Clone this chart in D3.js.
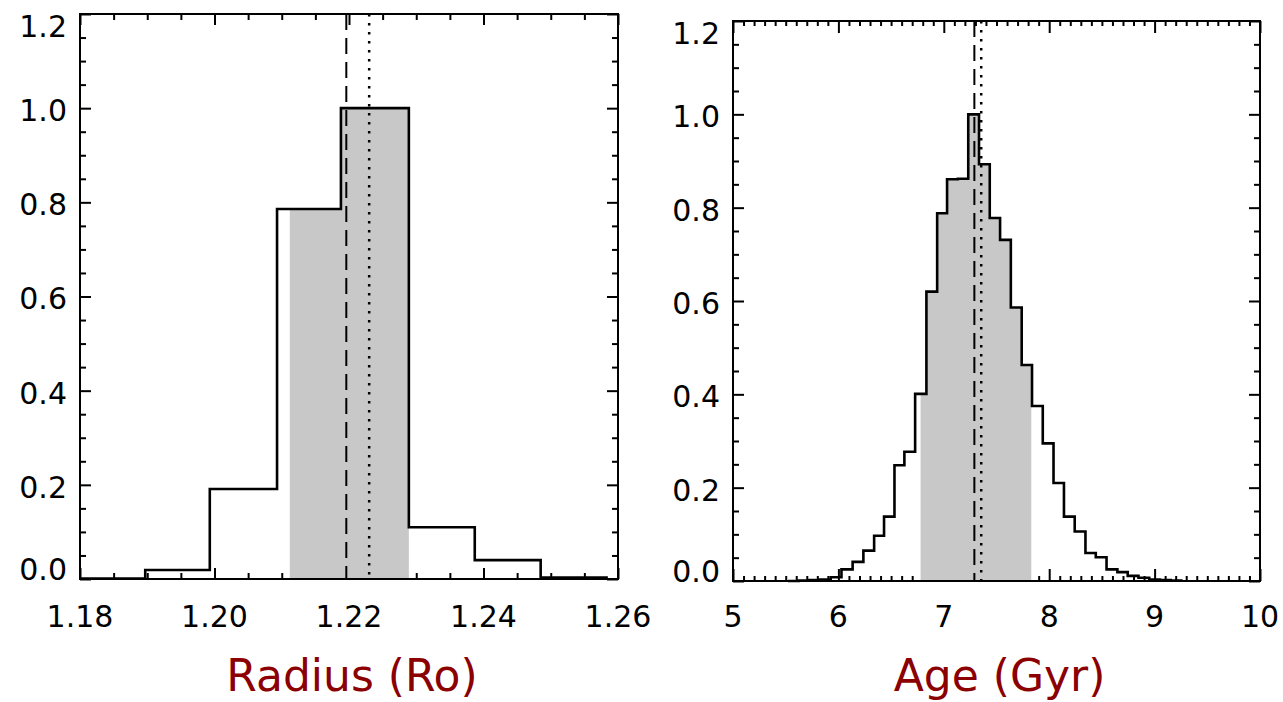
<!DOCTYPE html>
<html>
<head>
<meta charset="utf-8">
<script src="https://cdn.jsdelivr.net/npm/d3@7"></script>
<style>
  html, body { margin: 0; padding: 0; background: #fff; }
  svg { display: block; }
</style>
</head>
<body>
<svg id="chart" width="1283" height="702"></svg>
<script>
// ---------------- data ----------------
const radiusEdges  = [1.1799, 1.1897, 1.1993, 1.2093, 1.2188, 1.2289, 1.2387, 1.2485, 1.2583];
const radiusValues = [0.001, 0.019, 0.191, 0.786, 1.000, 0.110, 0.040, 0.003];
const radiusShade  = [1.2112, 1.2289];
const radiusDashed = 1.2196;
const radiusDotted = 1.2230;
const radiusTickValues = [1.18, 1.20, 1.22, 1.24, 1.26];
const radiusTickLabels = ["1.18", "1.20", "1.22", "1.24", "1.26"];

const ageEdges = [5.521, 5.623, 5.724, 5.826, 5.927, 6.029, 6.135, 6.237, 6.339, 6.433,
                  6.532, 6.626, 6.728, 6.835, 6.937, 7.031, 7.133, 7.232, 7.334, 7.436,
                  7.534, 7.636, 7.739, 7.837, 7.939, 8.041, 8.140, 8.242, 8.344, 8.442,
                  8.544, 8.647, 8.745, 8.847, 8.949, 9.050, 9.152, 9.253];
const ageValues = [0.000, 0.001, 0.002, 0.003, 0.008, 0.025, 0.041, 0.065, 0.097, 0.138,
                   0.248, 0.277, 0.401, 0.620, 0.788, 0.861, 0.862, 1.000, 0.893, 0.778,
                   0.731, 0.586, 0.463, 0.375, 0.295, 0.210, 0.138, 0.106, 0.060, 0.051,
                   0.025, 0.019, 0.011, 0.007, 0.003, 0.002, 0.001];
const ageShade  = [6.78, 7.83];
const ageDashed = 7.29;
const ageDotted = 7.355;
const ageTickValues = [5, 6, 7, 8, 9, 10];
const ageTickLabels = ["5", "6", "7", "8", "9", "10"];

const yTickValues = [0.0, 0.2, 0.4, 0.6, 0.8, 1.0, 1.2];
const yTickLabels = ["0.0", "0.2", "0.4", "0.6", "0.8", "1.0", "1.2"];

const xTitles = ["Radius (Ro)", "Age (Gyr)"];

// ---------------- layout ----------------
const svg = d3.select("#chart");
svg.append("rect").attr("width", 1283).attr("height", 702).attr("fill", "#fff");

const FONT = "'DejaVu Sans', sans-serif";
const panels = [
  { box: [80, 618, 14, 579], xDomain: [1.18, 1.26], minorX: 0.005,
    edges: radiusEdges, values: radiusValues, shade: radiusShade,
    dashed: radiusDashed, dotted: radiusDotted,
    tickValues: radiusTickValues, tickLabels: radiusTickLabels, title: xTitles[0],
    majorLenX: 11, minorLenX: 6, id: "p0" },
  { box: [733, 1260, 21, 581], xDomain: [5, 10], minorX: 0.1,
    edges: ageEdges, values: ageValues, shade: ageShade,
    dashed: ageDashed, dotted: ageDotted,
    tickValues: ageTickValues, tickLabels: ageTickLabels, title: xTitles[1],
    majorLenX: 12, minorLenX: 5, id: "p1" }
];

const defs = svg.append("defs");

panels.forEach(p => {
  const [x0, x1, y0, y1] = p.box;
  const x = d3.scaleLinear().domain(p.xDomain).range([x0, x1]);
  const y = d3.scaleLinear().domain([0, 1.2]).range([y1, y0]);
  const g = svg.append("g");

  const eps = 1e-9;
  const minorXVals = d3.range(p.xDomain[0], p.xDomain[1] + eps, p.minorX)
    .filter(v => !p.tickValues.some(t => Math.abs(t - v) < p.minorX / 10));
  const minorYVals = d3.range(0, 1.2 + eps, 0.05)
    .filter(v => !yTickValues.some(t => Math.abs(t - v) < 0.005));

  const styleAxis = sel => {
    sel.select(".domain").remove();
    sel.selectAll("line").attr("stroke", "#000").attr("stroke-width", 2);
    sel.selectAll("text").remove();
  };

  // x ticks bottom & top (inward)
  g.append("g").attr("transform", `translate(0,${y1})`)
    .call(d3.axisBottom(x).tickValues(p.tickValues).tickSize(-p.majorLenX).tickSizeOuter(0)).call(styleAxis);
  g.append("g").attr("transform", `translate(0,${y1})`)
    .call(d3.axisBottom(x).tickValues(minorXVals).tickSize(-p.minorLenX).tickSizeOuter(0)).call(styleAxis);
  g.append("g").attr("transform", `translate(0,${y0})`)
    .call(d3.axisTop(x).tickValues(p.tickValues).tickSize(-p.majorLenX).tickSizeOuter(0)).call(styleAxis);
  g.append("g").attr("transform", `translate(0,${y0})`)
    .call(d3.axisTop(x).tickValues(minorXVals).tickSize(-p.minorLenX).tickSizeOuter(0)).call(styleAxis);
  // y ticks left & right (inward)
  g.append("g").attr("transform", `translate(${x0},0)`)
    .call(d3.axisLeft(y).tickValues(yTickValues).tickSize(-11).tickSizeOuter(0)).call(styleAxis);
  g.append("g").attr("transform", `translate(${x0},0)`)
    .call(d3.axisLeft(y).tickValues(minorYVals).tickSize(-6).tickSizeOuter(0)).call(styleAxis);
  g.append("g").attr("transform", `translate(${x1},0)`)
    .call(d3.axisRight(y).tickValues(yTickValues).tickSize(-11).tickSizeOuter(0)).call(styleAxis);
  g.append("g").attr("transform", `translate(${x1},0)`)
    .call(d3.axisRight(y).tickValues(minorYVals).tickSize(-6).tickSizeOuter(0)).call(styleAxis);

  // step points
  const pts = [[p.edges[0], 0]];
  p.values.forEach((v, i) => { pts.push([p.edges[i], v]); pts.push([p.edges[i + 1], v]); });
  pts.push([p.edges[p.edges.length - 1], 0]);

  // shaded area (clipped to shade interval)
  defs.append("clipPath").attr("id", "shade-" + p.id)
    .append("rect").attr("x", x(p.shade[0])).attr("y", y0)
    .attr("width", x(p.shade[1]) - x(p.shade[0])).attr("height", y1 - y0);
  const area = d3.area().x(d => x(d[0])).y0(y(0)).y1(d => y(d[1]));
  g.append("path").datum(pts).attr("d", area)
    .attr("fill", "#c8c8c8").attr("stroke", "none")
    .attr("clip-path", `url(#shade-${p.id})`);

  // frame
  g.append("rect").attr("x", x0).attr("y", y0).attr("width", x1 - x0).attr("height", y1 - y0)
    .attr("fill", "none").attr("stroke", "#000").attr("stroke-width", 2);

  // dashed & dotted lines
  g.append("line").attr("x1", x(p.dashed)).attr("x2", x(p.dashed)).attr("y1", y(1.2)).attr("y2", y(0))
    .attr("stroke", "#000").attr("stroke-width", 2).attr("stroke-dasharray", "16,8");
  g.append("line").attr("x1", x(p.dotted)).attr("x2", x(p.dotted)).attr("y1", y(1.2)).attr("y2", y(0))
    .attr("stroke", "#000").attr("stroke-width", 2.5).attr("stroke-dasharray", "2.5,6.5");

  // histogram outline
  defs.append("clipPath").attr("id", "plot-" + p.id)
    .append("rect").attr("x", x0).attr("y", y0 - 2).attr("width", x1 - x0).attr("height", y1 - y0 + 4);
  const line = d3.line().x(d => x(d[0])).y(d => y(d[1]));
  g.append("path").datum(pts).attr("d", line)
    .attr("fill", "none").attr("stroke", "#000").attr("stroke-width", 2.6)
    .attr("stroke-linejoin", "miter").attr("clip-path", `url(#plot-${p.id})`);

  // x tick labels
  g.selectAll(".xl").data(p.tickValues).enter().append("text")
    .attr("x", d => x(d)).attr("y", 627)
    .attr("text-anchor", "middle").attr("font-family", FONT).attr("font-size", 30)
    .attr("fill", "#000").text((d, i) => p.tickLabels[i]);

  // y tick labels (kept inside the axis range like IDL)
  const cap = 0.729 * 30;
  g.selectAll(".yl").data(yTickValues).enter().append("text")
    .attr("x", x0 - 13)
    .attr("y", d => {
      let yc = y(d) + 2;
      let top = yc - cap / 2;
      if (top < y0 + 1) top = y0 + 1;
      let bottom = top + cap;
      if (bottom > y1 + 1) bottom = y1 + 1;
      return bottom;
    })
    .attr("text-anchor", "end").attr("font-family", FONT).attr("font-size", 30)
    .attr("fill", "#000").text((d, i) => yTickLabels[i]);

  // x title
  g.append("text").attr("x", (x0 + x1) / 2 + 3).attr("y", 691)
    .attr("text-anchor", "middle").attr("font-family", FONT).attr("font-size", 44)
    .attr("fill", "#8b0000").text(p.title);
});
</script>
</body>
</html>
